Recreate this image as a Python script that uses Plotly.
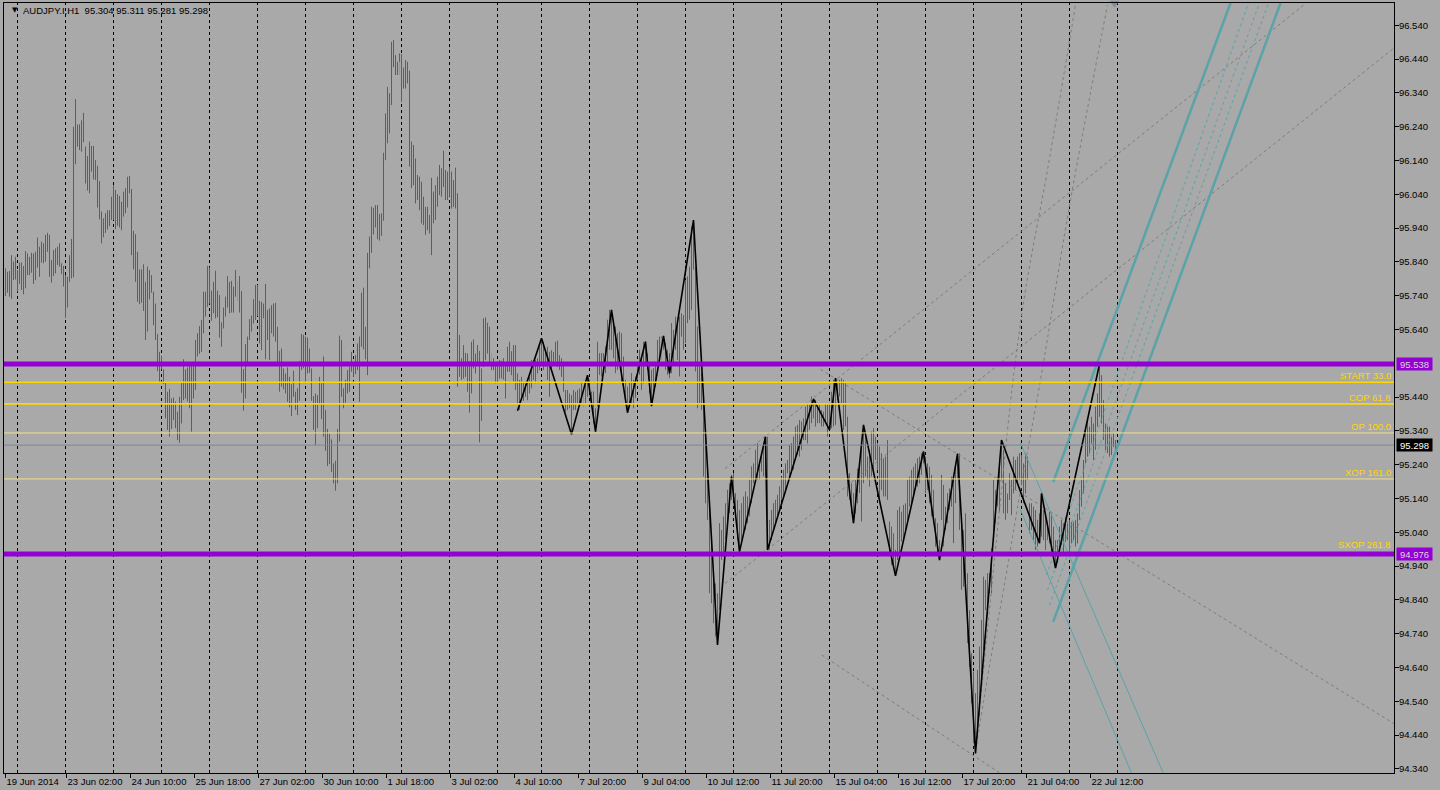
import plotly.graph_objects as go

# ---- H1 bars: high / low per bar (bar index 0 = 19 Jun 2014) ----
bar_high = [
    95.821, 95.811, 95.813, 95.860, 95.841, 95.855, 95.816, 95.838, 95.838, 95.828,
    95.872, 95.865, 95.855, 95.867, 95.865, 95.870, 95.912, 95.885, 95.900, 95.895,
    95.920, 95.926, 95.920, 95.846, 95.875, 95.880, 95.885, 95.895, 95.836, 95.828,
    95.801, 95.796, 95.860, 95.908, 96.240, 96.322, 96.247, 96.247, 96.259, 96.281,
    96.181, 96.153, 96.196, 96.183, 96.183, 96.141, 96.124, 96.079, 95.989, 95.969,
    95.984, 95.993, 95.993, 96.033, 96.067, 96.053, 96.040, 96.035, 96.018, 96.048,
    96.058, 96.092, 96.094, 96.056, 95.932, 95.922, 95.870, 95.818, 95.818, 95.833,
    95.781, 95.826, 95.816, 95.801, 95.752, 95.717, 95.627, 95.574, 95.562, 95.522,
    95.483, 95.456, 95.464, 95.436, 95.439, 95.427, 95.397, 95.441, 95.483, 95.552,
    95.522, 95.528, 95.538, 95.543, 95.545, 95.609, 95.629, 95.650, 95.668, 95.752,
    95.752, 95.828, 95.824, 95.755, 95.781, 95.814, 95.755, 95.742, 95.661, 95.705,
    95.737, 95.798, 95.781, 95.784, 95.767, 95.816, 95.781, 95.798, 95.754, 95.523,
    95.597, 95.619, 95.671, 95.681, 95.730, 95.772, 95.772, 95.725, 95.722, 95.717,
    95.775, 95.698, 95.703, 95.712, 95.717, 95.719, 95.648, 95.577, 95.584, 95.525,
    95.510, 95.528, 95.500, 95.478, 95.518, 95.456, 95.466, 95.547, 95.627, 95.624,
    95.619, 95.616, 95.584, 95.525, 95.443, 95.451, 95.446, 95.500, 95.481, 95.560,
    95.402, 95.346, 95.331, 95.315, 95.244, 95.252, 95.346, 95.622, 95.609, 95.466,
    95.491, 95.520, 95.530, 95.574, 95.540, 95.564, 95.599, 95.619, 95.749, 95.764,
    95.648, 95.867, 95.915, 96.003, 96.000, 96.008, 96.008, 95.982, 95.984, 96.163,
    96.279, 96.358, 96.339, 96.491, 96.496, 96.452, 96.432, 96.457, 96.455, 96.415,
    96.437, 96.432, 96.406, 96.196, 96.186, 96.146, 96.097, 96.092, 96.077, 96.033,
    96.003, 96.003, 95.979, 96.089, 96.048, 96.067, 96.092, 96.127, 96.117, 96.169,
    96.112, 96.107, 96.122, 96.107, 96.082, 96.119, 96.043, 95.624, 95.555, 95.594,
    95.571, 95.569, 95.547, 95.604, 95.611, 95.569, 95.594, 95.577, 95.525, 95.673,
    95.676, 95.660, 95.648, 95.555, 95.555, 95.542, 95.545, 95.550, 95.548, 95.555,
    95.535, 95.589, 95.604, 95.576, 95.594, 95.594, 95.510, 95.491, 95.500, 95.483,
    95.479, 95.495, 95.500, 95.550, 95.535, 95.550, 95.555, 95.599, 95.614, 95.604,
    95.574, 95.589, 95.574, 95.579, 95.574, 95.604, 95.607, 95.564, 95.555, 95.545,
    95.461, 95.461, 95.451, 95.446, 95.461, 95.456, 95.461, 95.466, 95.481, 95.456,
    95.476, 95.500, 95.491, 95.456, 95.457, 95.407, 95.604, 95.570, 95.570, 95.570,
    95.590, 95.669, 95.698, 95.698, 95.669, 95.649, 95.629, 95.634, 95.629, 95.560,
    95.491, 95.471, 95.486, 95.511, 95.491, 95.501, 95.545, 95.580, 95.550, 95.604,
    95.604, 95.570, 95.540, 95.521, 95.526, 95.540, 95.609, 95.619, 95.619, 95.621,
    95.600, 95.580, 95.570, 95.659, 95.639, 95.678, 95.669, 95.678, 95.688, 95.683,
    95.787, 95.797, 95.826, 95.945, 95.964, 95.826, 95.649, 95.540, 95.511, 95.442,
    95.323, 95.205, 95.146, 95.008, 94.929, 94.889, 94.860, 95.067, 95.047, 95.087,
    95.126, 95.166, 95.185, 95.210, 95.215, 95.156, 95.136, 95.106, 95.126, 95.146,
    95.161, 95.146, 95.195, 95.235, 95.244, 95.284, 95.304, 95.244, 95.274, 95.304,
    95.314, 95.323, 95.077, 95.106, 95.126, 95.136, 95.151, 95.176, 95.205, 95.225,
    95.244, 95.254, 95.299, 95.304, 95.323, 95.353, 95.358, 95.372, 95.368, 95.377,
    95.412, 95.422, 95.422, 95.442, 95.437, 95.432, 95.412, 95.417, 95.402, 95.397,
    95.422, 95.422, 95.422, 95.456, 95.491, 95.496, 95.481, 95.491, 95.496, 95.491,
    95.481, 95.382, 95.215, 95.185, 95.156, 95.195, 95.229, 95.254, 95.299, 95.358,
    95.338, 95.264, 95.284, 95.338, 95.348, 95.323, 95.303, 95.294, 95.274, 95.259,
    95.264, 95.313, 95.072, 95.057, 95.037, 94.988, 95.106, 95.116, 95.101, 95.121,
    95.126, 95.195, 95.205, 95.225, 95.234, 95.244, 95.259, 95.264, 95.274, 95.279,
    95.264, 95.244, 95.234, 95.210, 95.165, 95.082, 95.067, 95.017, 95.210, 95.180,
    95.116, 95.156, 95.170, 95.205, 95.205, 95.244, 95.274, 95.274, 95.067, 95.047,
    95.096, 94.919, 94.810, 94.682, 94.628, 94.564, 94.633, 94.702, 94.781, 94.909,
    94.899, 94.919, 94.919, 94.993, 95.195, 95.165, 95.195, 95.234, 95.313, 95.284,
    95.185, 95.155, 95.215, 95.195, 95.264, 95.254, 95.264, 95.274, 95.269, 95.244,
    95.274, 95.264, 95.126, 95.126, 95.116, 95.106, 95.077, 95.096, 95.155, 95.106,
    95.096, 95.071, 95.101, 95.096, 95.057, 95.017, 95.017, 95.057, 95.077, 95.067,
    95.086, 95.067, 95.077, 95.071, 95.071, 95.077, 95.096, 95.165, 95.195, 95.254,
    95.343, 95.372, 95.353, 95.382, 95.362, 95.412, 95.451, 95.538, 95.505, 95.431,
    95.362, 95.353, 95.353, 95.323, 95.333, 95.313,
]
bar_low = [
    95.739, 95.749, 95.737, 95.731, 95.786, 95.788, 95.752, 95.775, 95.757, 95.744,
    95.762, 95.801, 95.801, 95.808, 95.775, 95.786, 95.823, 95.796, 95.838, 95.836,
    95.841, 95.870, 95.796, 95.779, 95.798, 95.806, 95.831, 95.826, 95.804, 95.767,
    95.675, 95.705, 95.781, 95.791, 95.794, 96.129, 96.181, 96.171, 96.166, 96.194,
    96.072, 96.051, 96.043, 96.107, 96.084, 96.082, 96.001, 95.966, 95.895, 95.913,
    95.926, 95.936, 95.946, 95.964, 95.964, 95.937, 95.947, 95.942, 95.934, 95.974,
    95.984, 96.001, 96.043, 95.860, 95.818, 95.781, 95.722, 95.715, 95.719, 95.695,
    95.609, 95.634, 95.729, 95.749, 95.653, 95.609, 95.517, 95.484, 95.522, 95.479,
    95.377, 95.343, 95.323, 95.346, 95.372, 95.348, 95.313, 95.305, 95.362, 95.431,
    95.436, 95.427, 95.407, 95.338, 95.436, 95.461, 95.560, 95.568, 95.574, 95.629,
    95.678, 95.707, 95.717, 95.666, 95.688, 95.673, 95.676, 95.616, 95.589, 95.643,
    95.678, 95.705, 95.688, 95.690, 95.690, 95.737, 95.725, 95.690, 95.453, 95.400,
    95.436, 95.540, 95.609, 95.634, 95.658, 95.668, 95.680, 95.599, 95.579, 95.673,
    95.552, 95.609, 95.550, 95.629, 95.619, 95.604, 95.540, 95.456, 95.471, 95.463,
    95.451, 95.426, 95.410, 95.384, 95.441, 95.402, 95.387, 95.429, 95.520, 95.525,
    95.481, 95.510, 95.512, 95.429, 95.343, 95.298, 95.348, 95.417, 95.375, 95.323,
    95.281, 95.236, 95.242, 95.219, 95.185, 95.163, 95.185, 95.308, 95.441, 95.407,
    95.423, 95.451, 95.456, 95.515, 95.500, 95.508, 95.520, 95.426, 95.589, 95.581,
    95.552, 95.505, 95.821, 95.867, 95.921, 95.942, 95.907, 95.903, 95.917, 95.962,
    96.141, 96.191, 96.220, 96.304, 96.416, 96.393, 96.393, 96.393, 96.314, 96.353,
    96.353, 96.368, 96.122, 96.058, 96.067, 96.013, 96.023, 95.993, 95.954, 95.949,
    95.920, 95.934, 95.924, 95.860, 95.954, 95.964, 96.003, 96.038, 96.033, 96.062,
    96.023, 96.023, 96.033, 95.998, 96.003, 95.998, 95.471, 95.500, 95.491, 95.495,
    95.500, 95.456, 95.394, 95.451, 95.525, 95.510, 95.540, 95.306, 95.370, 95.530,
    95.550, 95.569, 95.542, 95.520, 95.520, 95.481, 95.486, 95.495, 95.495, 95.492,
    95.436, 95.515, 95.515, 95.505, 95.486, 95.461, 95.417, 95.402, 95.441, 95.429,
    95.441, 95.431, 95.451, 95.466, 95.491, 95.481, 95.510, 95.520, 95.535, 95.520,
    95.530, 95.491, 95.441, 95.525, 95.540, 95.545, 95.530, 95.520, 95.500, 95.456,
    95.397, 95.402, 95.407, 95.330, 95.402, 95.402, 95.421, 95.417, 95.417, 95.412,
    95.421, 95.441, 95.461, 95.412, 95.363, 95.338, 95.412, 95.506, 95.501, 95.506,
    95.511, 95.540, 95.580, 95.580, 95.555, 95.511, 95.521, 95.540, 95.486, 95.471,
    95.442, 95.402, 95.412, 95.422, 95.407, 95.437, 95.491, 95.506, 95.461, 95.481,
    95.530, 95.521, 95.452, 95.412, 95.442, 95.471, 95.530, 95.550, 95.560, 95.580,
    95.521, 95.506, 95.496, 95.511, 95.540, 95.580, 95.550, 95.501, 95.619, 95.580,
    95.600, 95.659, 95.669, 95.698, 95.817, 95.516, 95.407, 95.422, 95.402, 95.205,
    95.126, 95.077, 94.860, 94.830, 94.771, 94.732, 94.707, 94.811, 94.959, 94.968,
    95.018, 95.072, 95.097, 95.136, 95.136, 95.106, 95.018, 94.988, 95.018, 95.037,
    95.047, 95.067, 95.087, 95.126, 95.185, 95.205, 95.195, 95.195, 95.220, 95.205,
    95.205, 94.998, 94.988, 95.018, 95.047, 95.062, 95.082, 95.106, 95.136, 95.146,
    95.166, 95.215, 95.205, 95.215, 95.225, 95.254, 95.269, 95.264, 95.284, 95.313,
    95.313, 95.303, 95.343, 95.363, 95.377, 95.353, 95.363, 95.363, 95.353, 95.353,
    95.368, 95.323, 95.343, 95.348, 95.353, 95.358, 95.432, 95.442, 95.422, 95.343,
    95.353, 95.146, 95.136, 95.096, 95.067, 95.096, 95.126, 95.156, 95.072, 95.185,
    95.205, 95.195, 95.175, 95.205, 95.225, 95.254, 95.225, 95.136, 95.165, 95.146,
    95.146, 95.136, 94.983, 94.943, 94.934, 94.914, 94.958, 94.968, 95.013, 95.017,
    95.047, 95.077, 95.116, 95.126, 95.146, 95.175, 95.175, 95.185, 95.210, 95.244,
    95.156, 95.165, 95.126, 95.087, 95.067, 94.998, 94.978, 94.958, 95.077, 94.998,
    95.047, 95.067, 95.106, 95.116, 95.008, 95.126, 95.200, 95.047, 94.870, 94.879,
    94.870, 94.712, 94.643, 94.534, 94.416, 94.386, 94.436, 94.495, 94.613, 94.692,
    94.810, 94.791, 94.860, 94.860, 95.017, 95.067, 95.116, 95.101, 95.195, 95.096,
    95.077, 95.096, 95.136, 95.091, 95.155, 95.165, 95.185, 95.195, 95.185, 95.126,
    95.155, 95.195, 95.037, 95.047, 95.017, 94.988, 94.998, 95.017, 95.027, 95.017,
    94.988, 95.017, 95.007, 94.978, 94.978, 94.938, 94.948, 94.978, 95.002, 94.978,
    95.012, 95.017, 94.978, 95.007, 95.017, 94.998, 95.007, 95.077, 95.116, 95.155,
    95.244, 95.264, 95.274, 95.303, 95.254, 95.284, 95.353, 95.382, 95.362, 95.313,
    95.284, 95.274, 95.264, 95.269, 95.293, 95.274,
]

# ZigZag turning points (bar index, price)
zz_idx = [256, 268, 283, 291, 295, 303, 311, 320, 323, 329, 332, 344, 356, 363, 367, 380,
          381, 404, 412, 415, 424, 429, 445, 459, 467, 476, 485, 498, 517, 518, 525, 547]
zz_price = [95.400, 95.614, 95.330, 95.505, 95.338, 95.698, 95.394, 95.604, 95.414, 95.621,
            95.510, 95.964, 94.707, 95.205, 94.983, 95.323, 94.988, 95.434, 95.343, 95.496,
            95.067, 95.358, 94.911, 95.279, 94.958, 95.272, 94.386, 95.313, 95.008, 95.155,
            94.934, 95.538]

# small green marks
green_idx = [116, 197, 243, 289, 328]
green_hi = [95.781, 96.432, 95.570, 95.456, 95.615]
green_lo = [95.725, 96.393, 95.540, 95.412, 95.550]

# period separators (bar index) and time axis labels
day_sep = [6, 30, 54, 78, 102, 126, 150, 174, 198, 222, 246, 268,
           292, 316, 340, 364, 388, 412, 436, 460, 484, 508, 532, 556]
time_ticks = [0, 30.5, 62.5, 94.5, 126.5, 158.5, 190.5, 222.5, 254.5, 286.5,
              318.5, 350.5, 382.5, 414.5, 446.5, 478.5, 510.5, 542.5]
time_labels = ["19 Jun 2014", "23 Jun 02:00", "24 Jun 10:00", "25 Jun 18:00",
               "27 Jun 02:00", "30 Jun 10:00", "1 Jul 18:00", "3 Jul 02:00",
               "4 Jul 10:00", "7 Jul 20:00", "9 Jul 04:00", "10 Jul 12:00",
               "11 Jul 20:00", "15 Jul 04:00", "16 Jul 12:00", "17 Jul 20:00",
               "21 Jul 04:00", "22 Jul 12:00"]
price_ticks = [94.34, 94.44, 94.54, 94.64, 94.74, 94.84, 94.94, 95.04, 95.14, 95.24, 95.34,
               95.44, 95.64, 95.74, 95.84, 95.94, 96.04, 96.14, 96.24, 96.34, 96.44, 96.54]

# horizontal levels
top_level = 95.538
level_names = ["START 33.0", "COP 61.8", "OP 100.0", "XOP 161.0", "SXOP 261.8"]
level_prices = [95.484, 95.420, 95.334, 95.198, 94.976]
last_price = 95.298

# drawn objects: ((idx0, price0), (idx1, price1))
gray_lines = [((359.85, 95.229), (649.15, 96.600)),
              ((359.85, 94.889), (694.25, 96.473)),
              ((407.5, 95.522), (694.25, 94.474)),
              ((408.15, 94.677), (497.15, 94.328))]
arc_a_idx = [485.5, 492.5, 497.5, 503.5, 510, 521, 535]
arc_a_price = [94.426, 94.840, 95.136, 95.476, 95.757, 96.112, 96.600]
arc_b_idx = [485.5, 492.5, 499, 507.5, 517.5, 532.5, 551]
arc_b_price = [94.411, 94.662, 94.869, 95.165, 95.491, 96.023, 96.600]
teal_thick = [((523.85, 95.189), (612.5, 96.606)),
              ((523.85, 94.775), (637.5, 96.606))]
teal_dash = [((520.5, 94.914), (621.5, 96.606)),
             ((521, 94.869), (627, 96.606)),
             ((522, 94.825), (631.5, 96.606))]
teal_thin = [((507.5, 95.304), (578.85, 94.328)),
             ((507.5, 95.106), (563, 94.328))]

BG = "#A9A9A9"
FONT = "Liberation Sans"
FS = 9.5
X_RANGE = [-0.75, 694.25]
Y_RANGE = [94.328, 96.606]


def segs(pairs):
    xs, ys = [], []
    for (x0, y0), (x1, y1) in pairs:
        xs += [x0, x1, None]
        ys += [y0, y1, None]
    return xs, ys


fig = go.Figure()

# bars
bx, by = [], []
for i, (h, l) in enumerate(zip(bar_high, bar_low)):
    bx += [i, i, None]
    by += [l, h, None]
fig.add_trace(go.Scatter(x=bx, y=by, mode="lines", line=dict(color="#5E5E5E", width=1),
                         hoverinfo="skip"))

gx, gy = [], []
for i, h, l in zip(green_idx, green_hi, green_lo):
    gx += [i, i, None]
    gy += [l, h, None]
fig.add_trace(go.Scatter(x=gx, y=gy, mode="lines", line=dict(color="#00FF00", width=1),
                         hoverinfo="skip"))

# gray dashed objects
xs, ys = segs(gray_lines)
fig.add_trace(go.Scatter(x=xs, y=ys, mode="lines",
                         line=dict(color="#7C7C7C", width=1, dash="3px,3px"), hoverinfo="skip"))
for ax_, ay_ in [(arc_a_idx, arc_a_price), (arc_b_idx, arc_b_price)]:
    fig.add_trace(go.Scatter(x=ax_, y=ay_, mode="lines", line_shape="spline",
                             line=dict(color="#7C7C7C", width=1, dash="3px,3px"), hoverinfo="skip"))

# teal objects
for pairs, w, d in [(teal_thin, 1, "solid"), (teal_dash, 1, "3px,3px"), (teal_thick, 2.5, "solid")]:
    xs, ys = segs(pairs)
    fig.add_trace(go.Scatter(x=xs, y=ys, mode="lines",
                             line=dict(color="#5AA3A8", width=w, dash=d), hoverinfo="skip"))

# zigzag
fig.add_trace(go.Scatter(x=zz_idx, y=zz_price, mode="lines",
                         line=dict(color="black", width=1.6), hoverinfo="skip"))

# chart shift marker
fig.add_trace(go.Scatter(x=[554.5], y=[Y_RANGE[1]], mode="markers", cliponaxis=False,
                         marker=dict(symbol="triangle-down", size=9, color="#7D8C9E"),
                         hoverinfo="skip"))

shapes = []
for s in day_sep:
    shapes.append(dict(type="line", xref="x", yref="paper", x0=s, x1=s, y0=0, y1=1,
                       layer="below", line=dict(color="black", width=1, dash="3px,3px")))

shapes.append(dict(type="line", xref="paper", yref="y", x0=0, x1=1, y0=last_price, y1=last_price,
                   layer="above", line=dict(color="#778899", width=1)))
for name, p in zip(level_names, level_prices):
    if name.startswith("SXOP"):
        ln = dict(color="#9400D3", width=5)
    elif name.startswith(("START", "COP")):
        ln = dict(color="#FFD700", width=1.6)
    else:
        ln = dict(color="#F0E08A", width=1)
    shapes.append(dict(type="line", xref="paper", yref="y", x0=0, x1=1, y0=p, y1=p,
                       layer="above", line=ln))
shapes.append(dict(type="line", xref="paper", yref="y", x0=0, x1=1, y0=top_level, y1=top_level,
                   layer="above", line=dict(color="#9400D3", width=5)))

annotations = []
for name, p in zip(level_names, level_prices):
    annotations.append(dict(xref="paper", yref="y", x=0.9995, y=p, text=name, showarrow=False,
                            xanchor="right", yanchor="bottom",
                            yshift=2 if name.startswith("SXOP") else -1,
                            font=dict(family=FONT, size=FS, color="#FFD700")))

AX_X = 1.00145
for p, bg, fc in [(top_level, "#9400D3", "#D8D8D8"), (last_price, "black", "white"),
                  (level_prices[-1], "#9400D3", "#D8D8D8")]:
    annotations.append(dict(xref="paper", yref="y", x=AX_X, y=p, text=f"{p:.3f}",
                            showarrow=False, xanchor="left", yanchor="middle", bgcolor=bg,
                            width=35, height=12, borderpad=0,
                            font=dict(family=FONT, size=FS, color=fc)))

annotations.append(dict(xref="paper", yref="paper", x=0.0045, y=0.9905, text="▼", showarrow=False,
                        xanchor="left", yanchor="middle", font=dict(family="DejaVu Sans", size=7, color="black")))
annotations.append(dict(xref="paper", yref="paper", x=0.0122, y=0.9905,
                        text="AUDJPY.I,H1  95.304 95.311 95.281 95.298", showarrow=False,
                        xanchor="left", yanchor="middle", font=dict(family=FONT, size=FS, color="black")))

fig.update_layout(
    width=1440, height=790,
    margin=dict(l=4, r=46, t=3, b=17, autoexpand=False),
    paper_bgcolor=BG, plot_bgcolor=BG,
    showlegend=False,
    shapes=shapes, annotations=annotations,
    font=dict(family=FONT, size=FS, color="black"),
    xaxis=dict(range=X_RANGE, tickvals=time_ticks, ticktext=time_labels, tickangle=0,
               ticks="outside", ticklen=4, tickcolor="black", ticklabelposition="outside right",
               showline=True, linecolor="black", linewidth=1, mirror=True,
               showgrid=False, zeroline=False, fixedrange=True,
               tickfont=dict(family=FONT, size=FS, color="black")),
    yaxis=dict(range=Y_RANGE, side="right", tickvals=price_ticks, tickformat=".3f",
               ticks="outside", ticklen=4, tickcolor="black", ticklabelstandoff=-2,
               showline=True, linecolor="black", linewidth=1, mirror=True,
               showgrid=False, zeroline=False, fixedrange=True,
               tickfont=dict(family=FONT, size=FS, color="black")),
)

fig.write_html("out.html", config={"displayModeBar": False},
               post_script="document.body.style.margin='0';document.body.style.overflow='hidden';")
